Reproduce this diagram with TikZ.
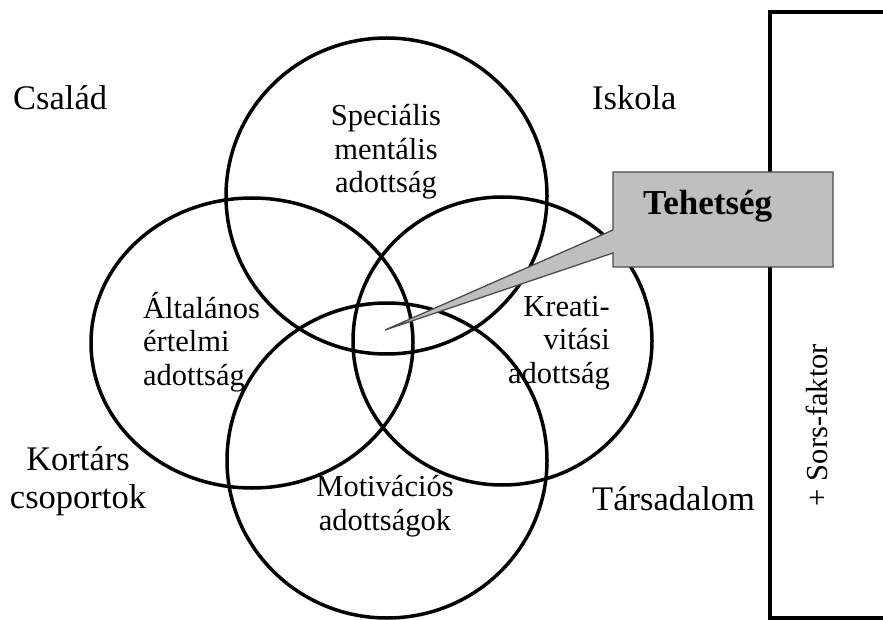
\documentclass[tikz,border=0pt]{standalone}
\usepackage{fontspec}
\setmainfont{Liberation Serif}
\usetikzlibrary{shapes.geometric}

\begin{document}
\begin{tikzpicture}[x=1pt,y=-1pt,
     ring/.style = {draw, ellipse, line width=3.5pt, inner sep=0pt},
     outer/.style = {font=\fontsize{34.5}{38}\selectfont, inner sep=0pt},
     inner/.style = {font=\fontsize{30.5}{33.5}\selectfont, inner sep=0pt},
     title/.style = {font=\fontsize{35}{38}\selectfont\bfseries, inner sep=0pt},
     callout/.style = {draw=black!70, line width=1.3pt, fill=black!25},
     frame/.style = {draw, line width=4pt}
    ]
    \useasboundingbox (0,0) rectangle (883,620);

    \node [ring, minimum width=321pt, minimum height=316pt] (spec) at (386.5,196) {};
    \node [ring, minimum width=322pt, minimum height=290pt] (alt) at (252,343) {};
    \node [ring, minimum width=299pt, minimum height=288pt] (krea) at (502.5,341) {};
    \node [ring, minimum width=320pt, minimum height=315pt] (moti) at (387,460.5) {};

    \node [outer, anchor=base west] (csalad) at (13,110) {Család};
    \node [outer, anchor=base west] (iskola) at (592,110) {Iskola};
    \node [outer, anchor=base west] (tarsadalom) at (592,510) {Társadalom};
    \node [outer, anchor=base, align=center] (kortars) at (78,508) {Kortárs\\csoportok};

    \node [inner, anchor=base, align=center] (spectext) at (386,193) {Speciális\\mentális\\adottság};
    \node [inner, anchor=base west, align=left] (alttext) at (143,385) {Általános\\értelmi\\adottság};
    \node [inner, anchor=base east, align=right] (kreatext) at (610,383) {Kreati-\\vitási\\adottság};
    \node [inner, anchor=base, align=center] (motitext) at (385,530) {Motivációs\\adottságok};

    \draw [frame] (900,12) -- (770,12) -- (770,618) -- (900,618);
    \node [inner, rotate=90] (sors) at (817,425) {+ Sors-faktor};

    \coordinate (tip) at (385,330);
    \path [callout] (613,172) -- (833,172) -- (833,267) -- (613,267) -- (613,253) -- (tip) -- (613,230) -- cycle;
    \node [title, anchor=base west] (tehetseg) at (643,215) {Tehetség};
\end{tikzpicture}
\end{document}
